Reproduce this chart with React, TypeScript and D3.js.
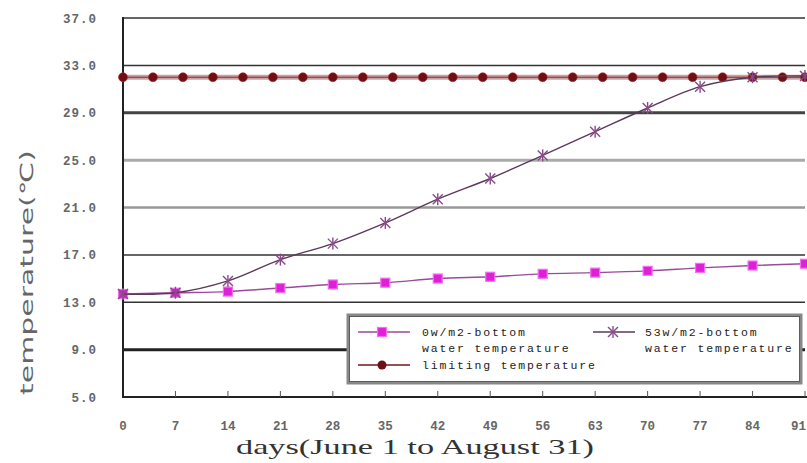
import React from "react";
import * as d3 from "d3";

const W = 807;
const H = 463;

const weekDays = [0, 7, 14, 21, 28, 35, 42, 49, 56, 63, 70, 77, 84, 91];
const zeroWTemp = [13.7, 13.8, 13.9, 14.2, 14.5, 14.65, 15.0, 15.15, 15.4, 15.5, 15.65, 15.9, 16.1, 16.25];
const w53Temp = [13.7, 13.8, 14.8, 16.6, 17.95, 19.7, 21.7, 23.45, 25.4, 27.4, 29.4, 31.2, 32.0, 32.1];
const limitDays = [0, 4, 8, 12, 16, 20, 24, 28, 32, 36, 40, 44, 48, 52, 56, 60, 64, 68, 72, 76, 80, 84, 88, 91];
const limitTemp = [32, 32, 32, 32, 32, 32, 32, 32, 32, 32, 32, 32, 32, 32, 32, 32, 32, 32, 32, 32, 32, 32, 32, 32];
const yTicks = [5, 9, 13, 17, 21, 25, 29, 33, 37];
const xTickLabels = ["0", "7", "14", "21", "28", "35", "42", "49", "56", "63", "70", "77", "84", "91"];
const legendLabels = ["0w/m2-bottom", "water temperature", "53w/m2-bottom", "water temperature", "limiting temperature"];

const gridStyle: Record<number, { c: string; w: number }> = {
  37: { c: "#333", w: 1.5 },
  33: { c: "#333", w: 1.5 },
  29: { c: "#444", w: 3 },
  25: { c: "#aaa", w: 3 },
  21: { c: "#999", w: 2.5 },
  17: { c: "#333", w: 1.5 },
  13: { c: "#333", w: 1.5 },
  9: { c: "#222", w: 3 },
};

function Asterisk({ x, y, s = 5, color }: { x: number; y: number; s?: number; color: string }) {
  return (
    <g stroke={color} strokeWidth={1.4}>
      <line x1={x - s} y1={y - s} x2={x + s} y2={y + s} />
      <line x1={x - s} y1={y + s} x2={x + s} y2={y - s} />
      <line x1={x} y1={y - s - 1} x2={x} y2={y + s + 1} />
    </g>
  );
}

export default function App() {
  const x = d3.scaleLinear().domain([0, 91]).range([123, 805]);
  const y = d3.scaleLinear().domain([5, 37]).range([397, 18]);

  const smooth = d3
    .line<number>()
    .x((_, i) => x(weekDays[i]))
    .y((v) => y(v))
    .curve(d3.curveCatmullRom.alpha(0.5));
  const straight = d3
    .line<number>()
    .x((_, i) => x(limitDays[i]))
    .y((v) => y(v));

  const sqColor = "#e020d8";
  const astColor = "#8a4a8a";
  const dotColor = "#6e0f14";
  const monoFont = "'Liberation Mono', monospace";
  const cw = 8.75;
  const last = weekDays.length - 1;

  return (
    <div style={{ position: "absolute", left: 0, top: 0 }}>
      <svg width={W} height={H} style={{ display: "block", background: "#fff" }}>
        {/* gridlines */}
        {yTicks
          .filter((t) => gridStyle[t])
          .map((t) => (
            <line
              key={t}
              x1={x(0)}
              x2={x(91)}
              y1={y(t)}
              y2={y(t)}
              stroke={gridStyle[t].c}
              strokeWidth={gridStyle[t].w}
            />
          ))}
        {/* axes */}
        <line x1={x(0)} x2={x(0)} y1={y(37) - 1} y2={y(5) + 1} stroke="#222" strokeWidth={2} />
        <line x1={x(0)} x2={W} y1={y(5)} y2={y(5)} stroke="#222" strokeWidth={2} />
        {weekDays.slice(1).map((d) => (
          <line key={d} x1={x(d)} x2={x(d)} y1={y(5)} y2={y(5) - 6} stroke="#555" strokeWidth={1} />
        ))}
        {/* y tick labels */}
        {yTicks.map((t) => (
          <text
            key={t}
            x={97}
            y={y(t) + 4.5}
            textAnchor="end"
            fontFamily={monoFont}
            fontWeight="bold"
            fontSize={12.5}
            fill="#666"
            letterSpacing={1}
          >
            {t.toFixed(1)}
          </text>
        ))}
        {/* x tick labels */}
        {weekDays.map((d, i) => (
          <text
            key={d}
            x={i === last ? W - 1 : x(d)}
            y={430}
            textAnchor={i === last ? "end" : "middle"}
            fontFamily={monoFont}
            fontWeight="bold"
            fontSize={12.5}
            fill="#666"
          >
            {xTickLabels[i]}
          </text>
        ))}
        {/* axis titles */}
        <text
          x={236}
          y={454}
          fontFamily="'Liberation Serif', serif"
          fontSize={22}
          fill="#333"
          textLength={358}
          lengthAdjust="spacingAndGlyphs"
        >
          days(June 1 to August 31)
        </text>
        <text
          transform="translate(33,395) rotate(-90)"
          fontFamily="'DejaVu Sans', sans-serif"
          fontSize={18}
          fill="#666"
          textLength={245}
          lengthAdjust="spacingAndGlyphs"
        >
          temperature(℃)
        </text>

        {/* limiting temperature */}
        <path d={straight(limitTemp) ?? ""} fill="none" stroke="#c9a3a3" strokeWidth={5} />
        <path d={straight(limitTemp) ?? ""} fill="none" stroke="#8a2a2a" strokeWidth={1} />
        {limitTemp.map((v, i) => (
          <circle key={i} cx={x(limitDays[i])} cy={y(v)} r={4.5} fill={dotColor} stroke="#b03030" strokeWidth={0.6} />
        ))}

        {/* 0w series */}
        <path d={smooth(zeroWTemp) ?? ""} fill="none" stroke="#9a4a9a" strokeWidth={1.4} />
        {zeroWTemp.map((v, i) => (
          <rect
            key={i}
            x={x(weekDays[i]) - 4.5}
            y={y(v) - 4.5}
            width={9}
            height={9}
            fill={sqColor}
            stroke="#f070f0"
            strokeWidth={1.2}
          />
        ))}

        {/* 53w series */}
        <path d={smooth(w53Temp) ?? ""} fill="none" stroke="#5a3a5a" strokeWidth={1.4} />
        {w53Temp.map((v, i) => (
          <Asterisk key={i} x={x(weekDays[i])} y={y(v)} color={astColor} />
        ))}

        {/* legend */}
        <rect x={348} y={315} width={453} height={68} fill="#fff" stroke="#888" strokeWidth={3} />
        <rect x={349.5} y={316.5} width={450} height={65} fill="none" stroke="#444" strokeWidth={0.8} />
        <line x1={358} x2={410} y1={332} y2={332} stroke="#9a4a9a" strokeWidth={1.5} />
        <rect x={377.5} y={327.5} width={9} height={9} fill={sqColor} stroke="#f070f0" strokeWidth={1.2} />
        <line x1={358} x2={410} y1={365} y2={365} stroke="#6e1a1a" strokeWidth={1.5} />
        <circle cx={382} cy={365} r={4.5} fill={dotColor} />
        <line x1={593} x2={635} y1={332} y2={332} stroke="#5a3a5a" strokeWidth={1.4} />
        <Asterisk x={613} y={332} color={astColor} />
        {[
          { t: legendLabels[0], x: 422, y: 336 },
          { t: legendLabels[1], x: 422, y: 352 },
          { t: legendLabels[2], x: 645, y: 336 },
          { t: legendLabels[3], x: 645, y: 352 },
          { t: legendLabels[4], x: 422, y: 369 },
        ].map((l, i) => (
          <text
            key={i}
            x={l.x}
            y={l.y}
            fontFamily={monoFont}
            fontSize={11.5}
            fill="#222"
            textLength={l.t.length * cw - 2}
            lengthAdjust="spacing"
          >
            {l.t}
          </text>
        ))}
      </svg>
    </div>
  );
}
